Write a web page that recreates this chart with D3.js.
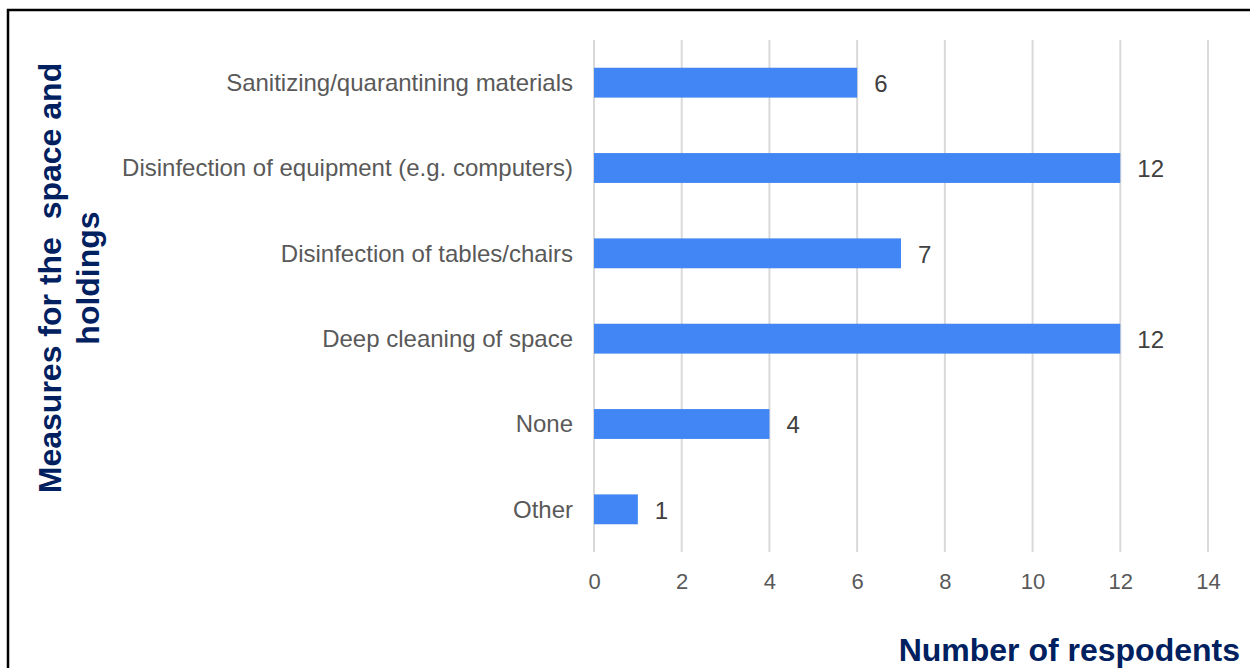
<!DOCTYPE html>
<meta charset="utf-8">
<style>
  body { margin: 0; background: #fff; }
  svg { display: block; font-family: "Liberation Sans", Arial, sans-serif; }
  .grid line { stroke: #d9d9d9; stroke-width: 2px; }
  .cat { fill: #595959; font-size: 24px; }
  .val { fill: #404040; font-size: 24px; }
  .tick text { fill: #595959; font-size: 22px; }
  .title { fill: #002060; font-weight: bold; }
</style>
<body>
<svg width="1250" height="668"></svg>
<script src="https://cdn.jsdelivr.net/npm/d3@7"></script>
<script>

var categories = ["Sanitizing/quarantining materials",
                  "Disinfection of equipment (e.g. computers)",
                  "Disinfection of tables/chairs",
                  "Deep cleaning of space",
                  "None",
                  "Other"];
var values = [6, 12, 7, 12, 4, 1];
var xTicks = [0, 2, 4, 6, 8, 10, 12, 14];

var svg = d3.select("svg");

// frame round the chart (only left and top show in the picture)
svg.append("path")
    .attr("d", "M8,668 V10 H1250")
    .attr("fill", "none")
    .attr("stroke", "#000")
    .attr("stroke-width", 2.5);

var x = d3.scaleLinear().domain([0, 14]).range([594, 1208]);
var y = d3.scaleBand().domain(categories).range([40, 552]).paddingInner(0.65).paddingOuter(0.325);

svg.append("g")
    .attr("class", "grid")
  .selectAll("line")
  .data(xTicks)
  .enter().append("line")
    .attr("x1", function(d) { return x(d); })
    .attr("x2", function(d) { return x(d); })
    .attr("y1", 40)
    .attr("y2", 552);

var xAxis = svg.append("g")
    .attr("transform", "translate(0,552)")
    .call(d3.axisBottom(x).tickValues(xTicks).tickSize(0).tickPadding(21));
xAxis.select(".domain").remove();
xAxis.selectAll("text").attr("font-family", null).attr("font-size", null);

svg.append("g")
  .selectAll("rect")
  .data(values)
  .enter().append("rect")
    .attr("x", x(0))
    .attr("y", function(d, i) { return y(categories[i]); })
    .attr("width", function(d) { return x(d) - x(0); })
    .attr("height", y.bandwidth())
    .attr("fill", "#4285f4");

svg.append("g")
  .selectAll("text")
  .data(categories)
  .enter().append("text")
    .attr("class", "cat")
    .attr("x", 573)
    .attr("y", function(d) { return y(d) + y.bandwidth() / 2; })
    .attr("dy", "0.35em")
    .attr("text-anchor", "end")
    .text(function(d) { return d; });

svg.append("g")
  .selectAll("text")
  .data(values)
  .enter().append("text")
    .attr("class", "val")
    .attr("x", function(d) { return x(d) + 17; })
    .attr("y", function(d, i) { return y(categories[i]) + y.bandwidth() / 2 + 1; })
    .attr("dy", "0.35em")
    .text(function(d) { return d; });

var yt = svg.append("text")
    .attr("class", "title")
    .attr("transform", "translate(0,278) rotate(-90)")
    .attr("text-anchor", "middle")
    .style("font-size", "32px");
yt.append("tspan").attr("x", 0).attr("y", 61).attr("xml:space", "preserve").text("Measures for the  space and");
yt.append("tspan").attr("x", 0).attr("y", 99).text("holdings");

svg.append("text")
    .attr("class", "title")
    .attr("x", 1240)
    .attr("y", 661)
    .attr("text-anchor", "end")
    .style("font-size", "32px")
    .text("Number of respodents");

</script>
</body>
